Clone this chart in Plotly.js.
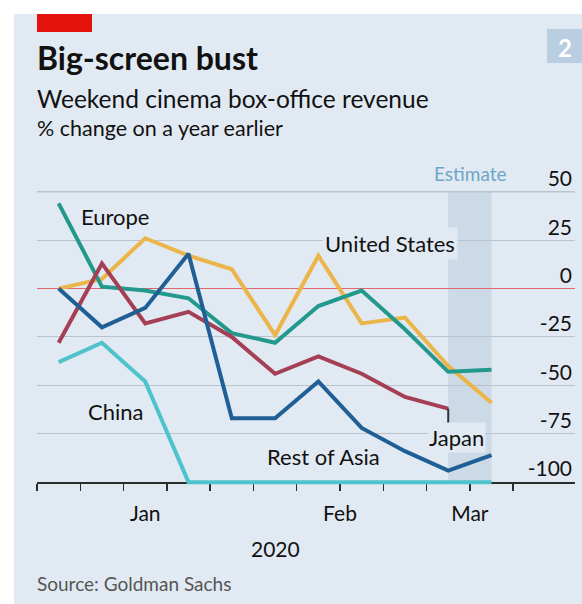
<!DOCTYPE html>
<html>
<head>
<meta charset="utf-8">
<script src="https://cdn.plot.ly/plotly-3.0.1.min.js"></script>
<style>html,body{margin:0;padding:0;background:#fff;}#chart{width:582px;height:604px;}</style>
</head>
<body>
<div id="chart"></div>
<script>
// ---- data ----
const weeks = ['2020-01-05','2020-01-12','2020-01-19','2020-01-26','2020-02-02','2020-02-09','2020-02-16','2020-02-23','2020-03-01','2020-03-08','2020-03-15'];
const europe       = [44, 1, -1, -5, -23, -28, -9, -1, -21, -43, -42];
const unitedStates = [0, 5, 26, 17, 10, -24, 17, -18, -15, -40, -59];
const japan        = [-28, 13, -18, -12, -25, -44, -35, -44, -56, -62, null];
const restOfAsia   = [0, -20, -10, 18, -67, -67, -48, -72, -84, -94, -86];
const china        = [-38, -28, -48, -100, -100, -100, -100, -100, -100, -100, -100];
const yTicks = [50, 25, 0, -25, -50, -75, -100];
const monthLabels = ['Jan', 'Feb', 'Mar'];
const monthPos = ['2020-01-19', '2020-02-19 12:00', '2020-03-11 12:00'];

// ---- styling ----
const BG = '#e1eaf2';
const GRID = '#b8c3cc';
const FONT = 'Lato, "Open Sans", sans-serif';
const colors = {
  europe: '#23998e', us: '#ebb549', japan: '#a53f55', asia: '#1f5f96', china: '#4ec3cc'
};
const DAY = 864e5;
const ms = s => Date.parse(s + 'T00:00:00Z');
const tickMs = weeks.map(w => ms(w) - 3.5 * DAY).concat([ms(weeks[weeks.length - 1]) + 3.5 * DAY]);

const YMIN = -102, YMAX = 53;
const L = 37, R = 7, T = 186, B = 118, W = 582, H = 604;
const PW = W - L - R, PH = H - T - B;
const xp = px => (px - L) / PW;
const yp = py => (H - B - py) / PH;

function line(name, y, color) {
  return { type: 'scatter', mode: 'lines', name: name, x: weeks, y: y,
    line: { color: color, width: 4, shape: 'linear' }, hoverinfo: 'skip', connectgaps: false };
}
const traces = [
  line('China', china, colors.china),
  line('United States', unitedStates, colors.us),
  line('Europe', europe, colors.europe),
  line('Japan', japan, colors.japan),
  line('Rest of Asia', restOfAsia, colors.asia)
];

function txt(text, px, py, size, opts) {
  return Object.assign({ text: text, xref: 'paper', yref: 'paper', x: xp(px), y: yp(py),
    showarrow: false, xanchor: 'left', yanchor: 'middle',
    font: { family: FONT, size: size, color: '#111' } }, opts || {});
}
const lastJ = japan.filter(v => v !== null);
const annotations = [
  txt('<b>Big-screen bust</b>', 35, 57, 32),
  txt('Weekend cinema box-office revenue', 35, 98, 24.5),
  txt('% change on a year earlier', 35, 128, 21.5),
  txt('Source: Goldman Sachs', 35, 583, 19, { font: { family: FONT, size: 19, color: '#555' } }),
  txt('2020', 275, 548, 21, { xanchor: 'center' }),
  txt('Estimate', 470, 173, 19, { xanchor: 'center', font: { family: FONT, size: 19, color: '#6ea6c6' } }),
  txt('Europe', 79, 216, 22, { bgcolor: BG }),
  txt('United States', 322, 243, 22, { bgcolor: BG, borderpad: 2 }),
  txt('China', 86, 411, 22, { bgcolor: BG }),
  txt('Rest of Asia', 265, 456, 22, { bgcolor: BG }),
  txt('Japan', 427, 437, 22, { bgcolor: BG }),
  txt('<b>2</b>', 565, 47, 24, { xanchor: 'center', font: { family: FONT, size: 24, color: '#ffffff' } })
];

const shapes = [
  // white outer margins
  { type: 'rect', xref: 'paper', yref: 'paper', x0: xp(0), x1: xp(14), y0: yp(H), y1: yp(0), fillcolor: '#ffffff', line: { width: 0 }, layer: 'below' },
  { type: 'rect', xref: 'paper', yref: 'paper', x0: xp(0), x1: xp(W), y0: yp(14), y1: yp(0), fillcolor: '#ffffff', line: { width: 0 }, layer: 'below' },
  // red tag
  { type: 'rect', xref: 'paper', yref: 'paper', x0: xp(37), x1: xp(92), y0: yp(32), y1: yp(14), fillcolor: '#e3120b', line: { width: 0 } },
  // chart number box
  { type: 'rect', xref: 'paper', yref: 'paper', x0: xp(547), x1: xp(W), y0: yp(63), y1: yp(29), fillcolor: '#b9cee0', line: { width: 0 }, layer: 'below' },
  // estimate band
  { type: 'rect', xref: 'x', yref: 'y', x0: weeks[9], x1: weeks[10], y0: -100, y1: 50, fillcolor: '#cbdae6', line: { width: 0 }, layer: 'below' },
  // top gridline (at the first y tick)
  { type: 'line', xref: 'paper', yref: 'y', x0: 0, x1: 1, y0: yTicks[0], y1: yTicks[0], line: { color: GRID, width: 1.3 }, layer: 'above' },
  // long first tick
  { type: 'line', xref: 'x', yref: 'y', x0: tickMs[0], x1: tickMs[0], y0: -100, y1: -109, line: { color: '#2b2b2b', width: 1.5 } },
  // Japan leader
  { type: 'line', xref: 'x', yref: 'y', x0: weeks[lastJ.length - 1], x1: weeks[lastJ.length - 1], y0: lastJ[lastJ.length - 1], y1: lastJ[lastJ.length - 1] - 9, line: { color: '#333', width: 2 } }
];

const layout = {
  width: W, height: H,
  margin: { l: L, r: R, t: T, b: B, pad: 0 },
  paper_bgcolor: BG, plot_bgcolor: 'rgba(0,0,0,0)',
  showlegend: false,
  font: { family: FONT, color: '#111' },
  xaxis: {
    type: 'date',
    range: [tickMs[0], tickMs[0] + 87 * DAY],
    anchor: 'free', position: (-100 - YMIN) / (YMAX - YMIN),
    showline: true, linecolor: '#2b2b2b', linewidth: 1.5, layer: 'below traces',
    showgrid: false, zeroline: false,
    tickmode: 'array', tickvals: monthPos, ticktext: monthLabels,
    ticks: '', ticklabelstandoff: 12,
    tickfont: { family: FONT, size: 21, color: '#111' },
    minor: { tickmode: 'array', tickvals: tickMs, ticks: 'outside', ticklen: 7, tickwidth: 1.5, tickcolor: '#2b2b2b', showgrid: false },
    fixedrange: true
  },
  yaxis: {
    range: [YMIN, YMAX],
    side: 'right', ticklabelposition: 'inside', ticklabeloverflow: 'allow',
    tickmode: 'array', tickvals: yTicks, ticktext: yTicks.map(String),
    ticks: '', ticklabelshift: -13,
    tickfont: { family: FONT, size: 21, color: '#111' },
    showgrid: true, gridcolor: GRID, gridwidth: 1,
    zeroline: true, zerolinecolor: '#e0676b', zerolinewidth: 1.5,
    showline: false, fixedrange: true
  },
  annotations: annotations,
  shapes: shapes
};

Plotly.newPlot('chart', traces, layout, { staticPlot: true, displayModeBar: false });
</script>
</body>
</html>
